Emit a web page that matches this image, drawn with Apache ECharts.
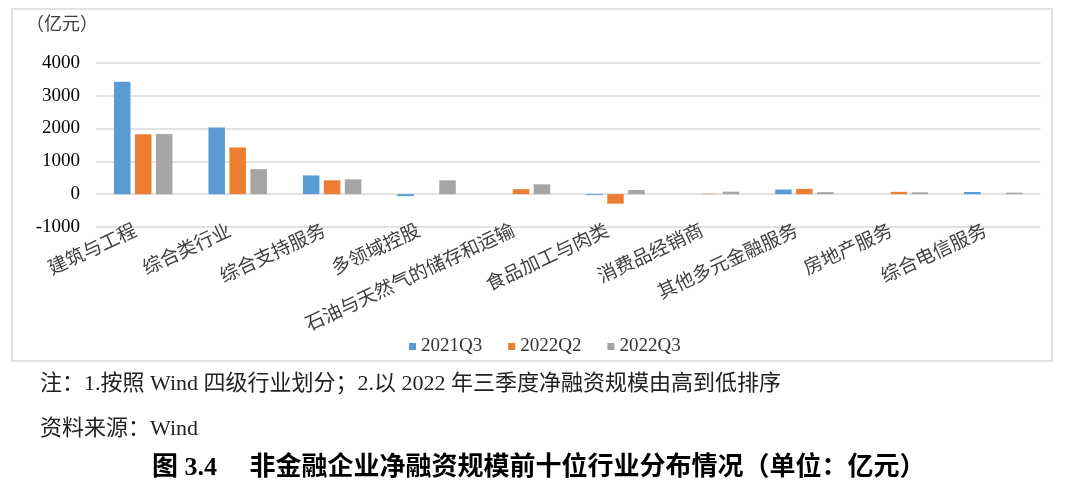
<!DOCTYPE html>
<html>
<head>
<meta charset="utf-8">
<script src="https://cdn.jsdelivr.net/npm/echarts@6/dist/echarts.min.js"></script>
<style>
html,body{margin:0;padding:0;background:#fff;}
#chart{width:1080px;height:490px;}
</style>
</head>
<body>
<div id="chart"></div>
<script>
const categories = ['建筑与工程','综合类行业','综合支持服务','多领域控股','石油与天然气的储存和运输','食品加工与肉类','消费品经销商','其他多元金融服务','房地产服务','综合电信服务'];
const seriesNames = ['2021Q3','2022Q2','2022Q3'];
const values2021Q3 = [3420, 2030, 570, -60, 0, -30, 0, 140, 0, 65];
const values2022Q2 = [1820, 1420, 420, 0, 150, -290, 10, 160, 70, 0];
const values2022Q3 = [1830, 760, 450, 420, 300, 125, 75, 60, 55, 45];
const yTicks = { min: -1000, max: 4000, interval: 1000 };
const unitText = '（亿元）';
const noteText = '注：1.按照 Wind 四级行业划分；2.以 2022 年三季度净融资规模由高到低排序';
const sourceText = '资料来源：Wind';
const titleText = '图 3.4　 非金融企业净融资规模前十位行业分布情况（单位：亿元）';

const FONT = '"Liberation Serif", "Noto Sans CJK SC", serif';
const colors = ['#5B9BD5', '#ED7D31', '#A5A5A5'];

const chart = echarts.init(document.getElementById('chart'), null, { renderer: 'canvas' });
const allValues = [values2021Q3, values2022Q2, values2022Q3];

chart.setOption({
  animation: false,
  backgroundColor: '#fff',
  color: colors,
  grid: { left: 96, right: 39.5, top: 62.7, bottom: 263, containLabel: false },
  legend: {
    data: seriesNames,
    left: 404,
    top: 332,
    icon: 'rect',
    itemWidth: 7,
    itemHeight: 7,
    itemGap: 26,
    textStyle: { fontFamily: FONT, fontSize: 19, color: '#333' }
  },
  xAxis: {
    type: 'category',
    data: categories,
    axisLine: { show: false, onZero: false },
    axisTick: { show: false },
    axisLabel: {
      interval: 0,
      rotate: 25,
      margin: 0,
      padding: [0, 8, 0, 0],
      fontFamily: FONT,
      fontSize: 19,
      color: '#404040'
    }
  },
  yAxis: {
    type: 'value',
    min: yTicks.min,
    max: yTicks.max,
    interval: yTicks.interval,
    axisLine: { show: false },
    axisTick: { show: false },
    splitLine: { lineStyle: { color: '#d9d9d9', width: 1.5 } },
    axisLabel: {
      margin: 16, fontFamily: FONT, fontSize: 19, color: '#000',
      formatter: function (v) { return String(v); }
    }
  },
  series: seriesNames.map((name, i) => ({
    name: name,
    type: 'bar',
    data: allValues[i],
    barWidth: 16.5,
    barGap: '27%',
    itemStyle: { color: colors[i] }
  })),
  graphic: [
    {
      type: 'rect', silent: true, z: -10,
      shape: { x: 12, y: 9, width: 1040, height: 352 },
      style: { fill: 'none', stroke: '#d9d9d9', lineWidth: 1.5 }
    },
    {
      type: 'text', x: 26, y: 25,
      style: { text: unitText, fontFamily: FONT, fontSize: 18, fill: '#404040', align: 'left', verticalAlign: 'middle' }
    },
    {
      type: 'text', x: 40, y: 384,
      style: { text: noteText, fontFamily: FONT, fontSize: 22, fill: '#222', align: 'left', verticalAlign: 'middle' }
    },
    {
      type: 'text', x: 40, y: 429,
      style: { text: sourceText, fontFamily: FONT, fontSize: 22, fill: '#222', align: 'left', verticalAlign: 'middle' }
    },
    {
      type: 'text', x: 152, y: 468,
      style: { text: titleText, fontFamily: FONT, fontSize: 26, fontWeight: 'bold', fill: '#000', align: 'left', verticalAlign: 'middle' }
    }
  ]
});
</script>
</body>
</html>
